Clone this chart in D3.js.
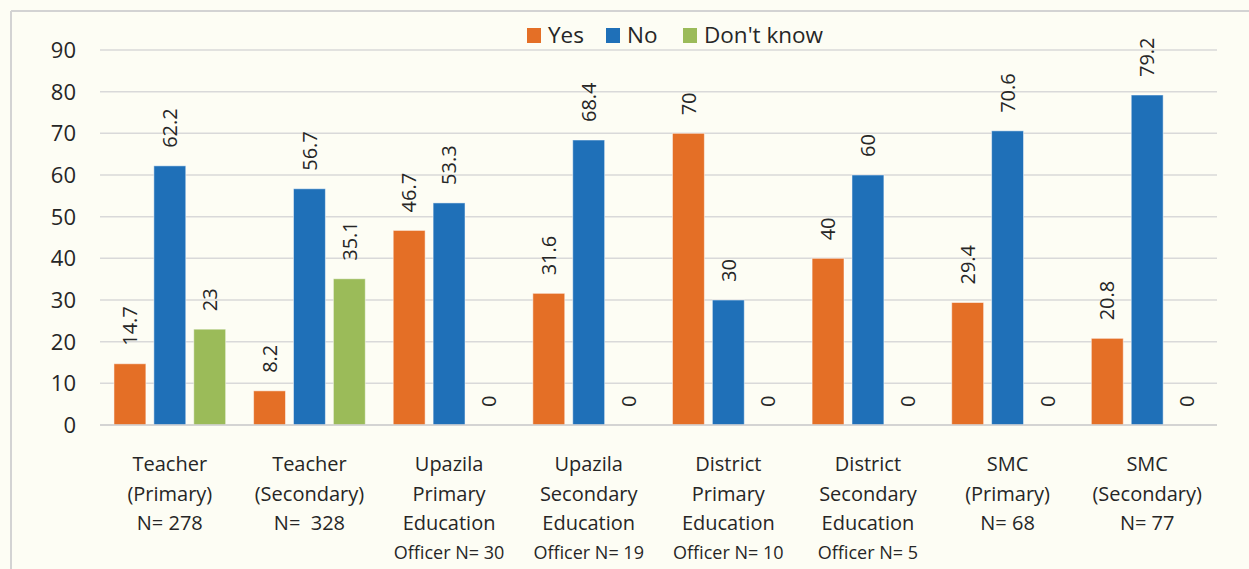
<!DOCTYPE html>
<html>
<head>
<meta charset="utf-8">
<script src="https://cdn.jsdelivr.net/npm/d3@7"></script>
<style>
  html, body { margin: 0; padding: 0; background: #fdfdf4; }
  svg { display: block; }
  .xlab { white-space: pre; }
</style>
</head>
<body>
<div id="chart"></div>
<script>
// categories (multi-line x labels)
const categories = [
  ["Teacher", "(Primary)", "N= 278"],
  ["Teacher", "(Secondary)", "N=  328"],
  ["Upazila", "Primary", "Education", "Officer N= 30"],
  ["Upazila", "Secondary", "Education", "Officer N= 19"],
  ["District", "Primary", "Education", "Officer N= 10"],
  ["District", "Secondary", "Education", "Officer N= 5"],
  ["SMC", "(Primary)", "N= 68"],
  ["SMC", "(Secondary)", "N= 77"]
];
const seriesNames = ["Yes", "No", "Don't know"];
const yesValues = [14.7, 8.2, 46.7, 31.6, 70, 40, 29.4, 20.8];
const noValues = [62.2, 56.7, 53.3, 68.4, 30, 60, 70.6, 79.2];
const dontKnowValues = [23, 35.1, 0, 0, 0, 0, 0, 0];
const yTicks = [0, 10, 20, 30, 40, 50, 60, 70, 80, 90];
const colors = ["#e46f26", "#1f70b8", "#9bbb59"];

const width = 1249, height = 569;
const seriesValues = [yesValues, noValues, dontKnowValues];

const svg = d3.select("#chart").append("svg")
  .attr("width", width)
  .attr("height", height);

// frame lines (top and left)
svg.append("line").attr("x1", 11).attr("x2", width).attr("y1", 11).attr("y2", 11)
  .attr("stroke", "#d3d3d3").attr("stroke-width", 2);
svg.append("line").attr("x1", 11).attr("x2", 11).attr("y1", 11).attr("y2", height)
  .attr("stroke", "#d3d3d3").attr("stroke-width", 2);

const catIdx = categories.map((d, i) => i);
const x = d3.scaleBand().domain(catIdx).range([100, 1217])
  .paddingInner(0.2).paddingOuter(0.1);
const xInner = d3.scaleBand().domain(d3.range(seriesNames.length))
  .range([0, x.bandwidth()]).paddingInner(0.2).paddingOuter(0);
const y = d3.scaleLinear().domain([0, 90]).range([425, 50]);

// gridlines
svg.append("g").selectAll("line").data(yTicks).enter().append("line")
  .attr("x1", 100).attr("x2", 1217)
  .attr("y1", d => y(d)).attr("y2", d => y(d))
  .attr("stroke", "#d9d9d9").attr("stroke-width", 1.5);

// y tick labels
svg.append("g").selectAll("text").data(yTicks).enter().append("text")
  .attr("x", 76).attr("y", d => y(d))
  .attr("dy", "0.36em")
  .attr("text-anchor", "end")
  .style("font-family", "'Open Sans', sans-serif")
  .style("font-size", "22px")
  .attr("fill", "#262626")
  .text(d => d);

// bars
const groups = svg.append("g").selectAll("g").data(catIdx).enter().append("g")
  .attr("transform", i => "translate(" + x(i) + ",0)");

groups.each(function(ci) {
  const g = d3.select(this);
  seriesValues.forEach((vals, si) => {
    const v = vals[ci];
    if (v > 0) {
      g.append("rect")
        .attr("x", xInner(si))
        .attr("y", y(v))
        .attr("width", xInner.bandwidth())
        .attr("height", y(0) - y(v))
        .attr("fill", colors[si])
        .attr("stroke", "#ffffff")
        .attr("stroke-opacity", 0.5)
        .attr("stroke-width", 1);
    }
    const cx = xInner(si) + xInner.bandwidth() / 2;
    const ty = y(v) - 18;
    g.append("text")
      .attr("transform", "translate(" + cx + "," + ty + ") rotate(-90)")
      .attr("dy", "0.36em")
      .attr("text-anchor", "start")
      .style("font-family", "'Open Sans', sans-serif")
      .style("font-size", "20px")
      .attr("fill", "#262626")
      .text(v);
  });
});

// baseline
svg.append("line").attr("x1", 100).attr("x2", 1217)
  .attr("y1", y(0)).attr("y2", y(0))
  .attr("stroke", "#cfcfcf").attr("stroke-width", 1.5);

// x labels
const xl = svg.append("g").selectAll("text").data(catIdx).enter().append("text")
  .attr("class", "xlab")
  .attr("x", i => x(i) + x.bandwidth() / 2)
  .attr("y", 464)
  .attr("text-anchor", "middle")
  .style("font-family", "'Open Sans', sans-serif")
  .style("font-size", "20px")
  .attr("fill", "#262626");
xl.each(function(i) {
  const t = d3.select(this);
  categories[i].forEach((line, li) => {
    const ts = t.append("tspan")
      .attr("x", x(i) + x.bandwidth() / 2)
      .attr("y", 464 + li * 29.5)
      .attr("dy", "0.36em")
      .text(line);
    if (line.startsWith("Officer")) ts.style("font-size", "18px");
  });
});

// legend
const legendX = [527, 606, 683];
const legend = svg.append("g").selectAll("g").data(seriesNames).enter().append("g")
  .attr("transform", (d, i) => "translate(" + legendX[i] + ",35)");
legend.append("rect")
  .attr("x", 0).attr("y", -7).attr("width", 14).attr("height", 15)
  .attr("fill", (d, i) => colors[i]);
legend.append("text")
  .attr("x", 21).attr("y", 0).attr("dy", "0.36em")
  .style("font-family", "'Open Sans', sans-serif")
  .style("font-size", "22.5px")
  .attr("fill", "#262626")
  .text(d => d);
</script>
</body>
</html>
